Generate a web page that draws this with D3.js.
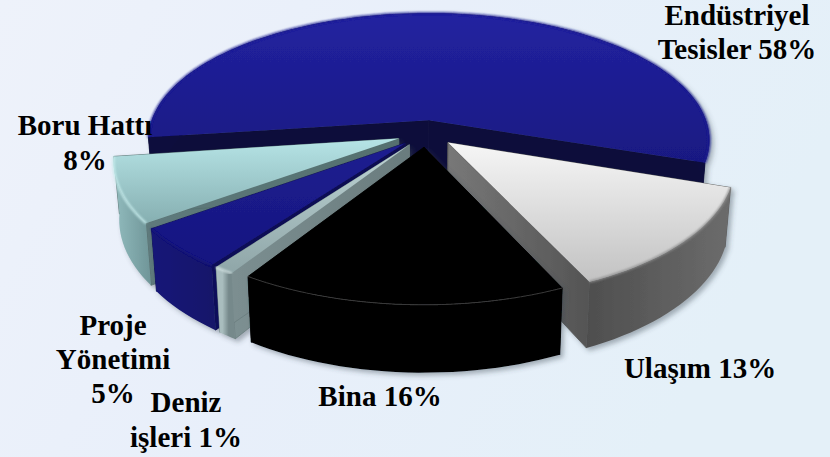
<!DOCTYPE html>
<html>
<head>
<meta charset="utf-8">
<script src="https://cdn.jsdelivr.net/npm/d3@7/dist/d3.min.js"></script>
<style>
  html, body { margin: 0; padding: 0; background: #e9f0f9; }
  svg { display: block; }
  text { font-family: "Liberation Serif", "Times New Roman", serif; font-weight: bold; fill: #000; }
</style>
</head>
<body>
<svg id="chart" width="830" height="457"></svg>
<script>
// Sector shares, in clockwise order from the right-hand side of the pie
const sectors = ["Ulaşım", "Bina", "Deniz işleri", "Proje Yönetimi", "Boru Hattı", "Endüstriyel Tesisler"];
const shares = [13, 16, 1, 5, 8, 58];

// Label text, one array entry per line, with its anchor
const labelLines = [
  ["Ulaşım 13%"],
  ["Bina 16%"],
  ["Deniz", "işleri 1%"],
  ["Proje", "Yönetimi", "5%"],
  ["Boru Hattı", "8%"],
  ["Endüstriyel", "Tesisler 58%"]
];
const labelAnchors = [[700, 378], [380, 406], [186, 412], [113, 335], [85, 135], [737, 25]];
const labelLeading = [0, 0, 35, 34, 35, 34];

// Per-slice paint: top gradient, rim, outer wall gradient, radial wall gradient
const paints = [
  { top: ["#f6f6f6", "#c2c2c2"], rim: "#8c8c8c", outer: ["#4e4e4e", "#6c6c6c"], wall: ["#787878", "#545454"] },
  { top: ["#000000", "#000000"], rim: "#3a3a3a", outer: ["#000000", "#000000"], wall: ["#000000", "#000000"] },
  { top: ["#bdd3d4", "#8fa6a8"], rim: "#d5e4e4", outer: ["#a9bdbe", "#a9bdbe", "#76898b", "#76898b"], wall: ["#7d9092", "#6a7c7e"] },
  { top: ["#1d1d90", "#161680"], rim: "#12127a", outer: ["#181878", "#12126a"], wall: ["#10105c", "#0e0e50"] },
  { top: ["#b6e4e6", "#86afb1"], rim: "#c9efef", outer: ["#92bcbe", "#6f9598"], wall: ["#5e7a7c", "#55706f"] },
  { top: ["#2222a0", "#191982"], rim: "#1e1e92", outer: ["#0b0b3c", "#0b0b3c"], wall: ["#0a0a3a", "#0a0a3a"] }
];

// Back-to-front painting order of the slices
const paintOrder = [5, 4, 3, 2, 0, 1];

// Camera model: the pie lies on a plane seen in perspective
const W = 830, H = 457;
const cx = 426, cy = 133.5;
const radius = 279, tilt = 128, perspective = 0.158;
const thickness = 56, baseShrink = 0.982, explode = 0.105;
const largestSliceGrowth = 1.01;
const deg = Math.PI / 180;

const zScale = d3.scaleLinear().domain([0, 1]).range([0, tilt]);
const xScale = d3.scaleLinear().domain([0, 1]).range([0, radius]);

function project(x, z, level) {
  const s = 1 / (1 - perspective * z);
  let px = xScale(x) * s;
  const py = zScale(z) * s + (level ? thickness * s : 0);
  if (level) px *= baseShrink;
  return [cx + px, cy + py];
}

const arcsData = d3.pie().sort(null).startAngle(109 * deg).endAngle(469 * deg)(shares);
const largest = d3.max(shares);
const line = d3.line();

const svg = d3.select("#chart");
const defs = svg.append("defs");

function addGradient(id, stops, horizontal) {
  const g = defs.append("linearGradient").attr("id", id)
    .attr("x1", 0).attr("y1", 0)
    .attr("x2", horizontal ? 1 : 0).attr("y2", horizontal ? 0 : 1);
  g.selectAll("stop").data(stops).join("stop")
    .attr("offset", (d, i) => i / (stops.length - 1))
    .attr("stop-color", d => d);
}

// Backdrop wash
const wash = defs.append("linearGradient").attr("id", "wash")
  .attr("x1", 0).attr("y1", 0).attr("x2", 1).attr("y2", 0.3);
wash.selectAll("stop").data(["#eef2fa", "#e8effa", "#e4f0f8"]).join("stop")
  .attr("offset", (d, i) => i / 2).attr("stop-color", d => d);
svg.append("rect").attr("width", W).attr("height", H).attr("fill", "url(#wash)");

const shadow = defs.append("filter").attr("id", "shadow")
  .attr("x", "-10%").attr("y", "-10%").attr("width", "125%").attr("height", "125%");
shadow.append("feDropShadow").attr("dx", 3).attr("dy", 3).attr("stdDeviation", 2.5)
  .attr("flood-color", "#3a4450").attr("flood-opacity", 0.4);
const soft = defs.append("filter").attr("id", "soft")
  .attr("x", "-10%").attr("y", "-10%").attr("width", "120%").attr("height", "120%");
soft.append("feGaussianBlur").attr("stdDeviation", 1.1);

const slices = svg.append("g");

paintOrder.forEach(i => {
  const d = arcsData[i], p = paints[i];
  addGradient("top" + i, p.top, false);
  addGradient("outer" + i, p.outer, true);
  addGradient("wall" + i, p.wall, true);

  const mid = (d.startAngle + d.endAngle) / 2;
  const ox = explode * Math.sin(mid), oz = -explode * Math.cos(mid);
  const grow = d.value === largest ? largestSliceGrowth : 1;
  const point = (a, r, level) => project(ox + grow * r * Math.sin(a), oz - r * Math.cos(a), level);

  const n = Math.max(4, Math.ceil((d.endAngle - d.startAngle) / (2 * deg)));
  const angles = d3.range(n + 1).map(k => d.startAngle + (d.endAngle - d.startAngle) * k / n);
  const topArc = angles.map(a => point(a, 1, 0));
  const baseArc = angles.map(a => point(a, 1, 1));
  const apexTop = point(d.startAngle, 0, 0), apexBase = point(d.startAngle, 0, 1);

  const g = slices.append("g").attr("filter", "url(#shadow)");

  // Radial walls; a hairline stroke closes the seam where the two meet
  [d.startAngle, d.endAngle].forEach(a => {
    g.append("path")
      .attr("d", line([apexTop, point(a, 1, 0), point(a, 1, 1), apexBase]) + "Z")
      .attr("fill", `url(#wall${i})`)
      .attr("stroke", p.wall[1])
      .attr("stroke-width", 0.8);
  });

  // Outer wall following the arc
  g.append("path")
    .attr("d", line(topArc.concat(baseArc.slice().reverse())) + "Z")
    .attr("fill", `url(#outer${i})`);

  // Top face
  g.append("path")
    .attr("d", line([apexTop].concat(topArc)) + "Z")
    .attr("fill", `url(#top${i})`);

  // Rim along the outer edge of the top face
  g.append("path")
    .attr("d", line(topArc))
    .attr("fill", "none")
    .attr("stroke", p.rim)
    .attr("stroke-width", i === 1 ? 1 : 2)
    .attr("filter", i === 1 ? null : "url(#soft)");
});

// Labels
const labels = svg.append("g").attr("font-size", 29).attr("text-anchor", "middle");
labelLines.forEach((lines, i) => {
  const t = labels.append("text");
  lines.forEach((s, k) => {
    t.append("tspan")
      .attr("x", labelAnchors[i][0])
      .attr("y", labelAnchors[i][1] + k * labelLeading[i])
      .text(s);
  });
});
</script>
</body>
</html>
